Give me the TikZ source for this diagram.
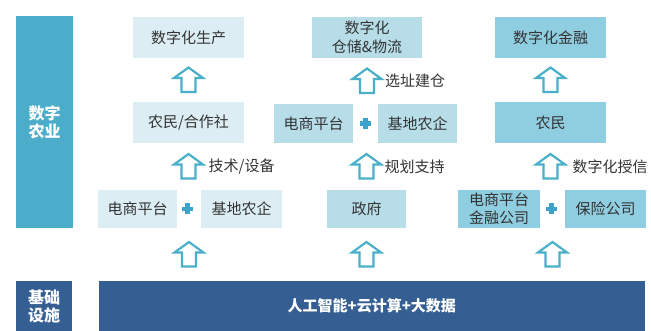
\documentclass[tikz,border=0pt]{standalone}
\usepackage{fontspec}
\setmainfont{Noto Sans CJK SC}
\usetikzlibrary{calc}
\definecolor{cone}{HTML}{DCEEF4}
\definecolor{ctwo}{HTML}{B7DDE9}
\definecolor{cthree}{HTML}{8FCDE0}
\definecolor{tealbar}{HTML}{4BADC9}
\definecolor{darkbar}{HTML}{355F92}
\definecolor{arrc}{HTML}{4AAFC8}
\definecolor{plusc}{HTML}{3BA3CC}
\definecolor{txt}{HTML}{333333}
\tikzset{
  box/.style={inner sep=0pt, align=center, text=txt, font=\fontsize{15}{19}\selectfont},
  sidebox/.style={inner sep=0pt, align=center, text=white, font=\fontsize{16}{18}\selectfont\bfseries},
  lbl/.style={inner sep=0pt, anchor=west, text=txt, font=\fontsize{15}{19}\selectfont},
  uparr/.pic={\draw[draw=arrc, line width=2.2pt, line join=miter, fill=white]
     (-7,12) -- (-7,-2) -- (-14.5,-2) -- (0,-12.5) -- (14.5,-2) -- (7,-2) -- (7,12) -- cycle;},
  plussign/.pic={\fill[plusc] (-5.5,-2.2) rectangle (5.5,2.2); \fill[plusc] (-2.2,-5.5) rectangle (2.2,5.5);}
}
\begin{document}
\begin{tikzpicture}[x=1pt,y=-1pt]
\useasboundingbox (0,0) rectangle (651,331);
% side labels
\node[sidebox, fill=tealbar, minimum width=57, minimum height=212] (sideA) at (44.5,122) {数字\\农业};
\node[sidebox, fill=darkbar, minimum width=56, minimum height=50] (sideB) at (44,306) {基础\\设施};
\node[sidebox, fill=darkbar, minimum width=546.3, minimum height=50, font=\fontsize{15}{18}\selectfont\bfseries] (bar) at (371.85,306) {人工智能+云计算+大数据};
% column 1
\node[box, fill=cone, minimum width=111, minimum height=41] (A1) at (188.5,37.5) {数字化生产};
\node[box, fill=cone, minimum width=111, minimum height=41] (A2) at (188.5,122.5) {农民/合作社};
\node[box, fill=cone, minimum width=79, minimum height=38] (A3a) at (137.5,209) {电商平台};
\node[box, fill=cone, minimum width=81, minimum height=38] (A3b) at (241.5,209) {基地农企};
% column 2
\node[box, fill=ctwo, minimum width=110, minimum height=41] (B1) at (367,37.5) {数字化\\仓储\&物流};
\node[box, fill=ctwo, minimum width=78.5, minimum height=39] (B2a) at (313.5,123.5) {电商平台};
\node[box, fill=ctwo, minimum width=79, minimum height=39] (B2b) at (417.5,123.5) {基地农企};
\node[box, fill=ctwo, minimum width=79, minimum height=38] (B3) at (366.5,209) {政府};
% column 3
\node[box, fill=cthree, minimum width=111, minimum height=41] (C1) at (550.5,37.5) {数字化金融};
\node[box, fill=cthree, minimum width=111, minimum height=41] (C2) at (550.5,122.5) {农民};
\node[box, fill=cthree, minimum width=82, minimum height=38, font=\fontsize{15}{18.5}\selectfont] (C3a) at (499,209) {电商平台\\金融公司};
\node[box, fill=cthree, minimum width=81, minimum height=38] (C3b) at (605.5,209) {保险公司};
% plus signs
\coordinate (P1) at ($(A3a.east)!0.5!(A3b.west)$);
\coordinate (P2) at ($(B2a.east)!0.5!(B2b.west)$);
\coordinate (P3) at ($(C3a.east)!0.5!(C3b.west)$);
\pic at ([xshift=-1.5pt]P1) {plussign};
\pic at (P2) {plussign};
\pic at ([xshift=-1pt]P3) {plussign};
% arrows column 1
\coordinate (a11) at ($(A2.north)!0.5!(A1.south)$);
\coordinate (a12) at ($(A2.south)!0.5!(A2.south |- A3a.north)$);
\coordinate (a13) at ($(P1 |- A3a.south)!0.5!(P1 |- bar.north)$);
% arrows column 2
\coordinate (a21) at ($(B1.south)!0.5!(B1.south |- B2a.north)$);
\coordinate (a22) at ($(B3.north)!0.5!(B3.north |- B2a.south)$);
\coordinate (a23) at ($(B3.south)!0.5!(B3.south |- bar.north)$);
% arrows column 3
\coordinate (a31) at ($(C1.south)!0.5!(C2.north)$);
\coordinate (a32) at ($(C2.south)!0.5!(C2.south |- C3a.north)$);
\coordinate (a33) at ($(P3 |- C3a.south)!0.5!(P3 |- bar.north)$);
\foreach \p in {a11,a12,a13,a21,a22,a23,a31,a32,a33} {\pic at (\p) {uparr};}
% arrow labels
\node[lbl] (L12) at ([xshift=20pt]a12) {技术/设备};
\node[lbl] (L21) at ([xshift=18pt]a21) {选址建仓};
\node[lbl] (L22) at ([xshift=18pt]a22) {规划支持};
\node[lbl] (L32) at ([xshift=22pt]a32) {数字化授信};
\end{tikzpicture}
\end{document}
